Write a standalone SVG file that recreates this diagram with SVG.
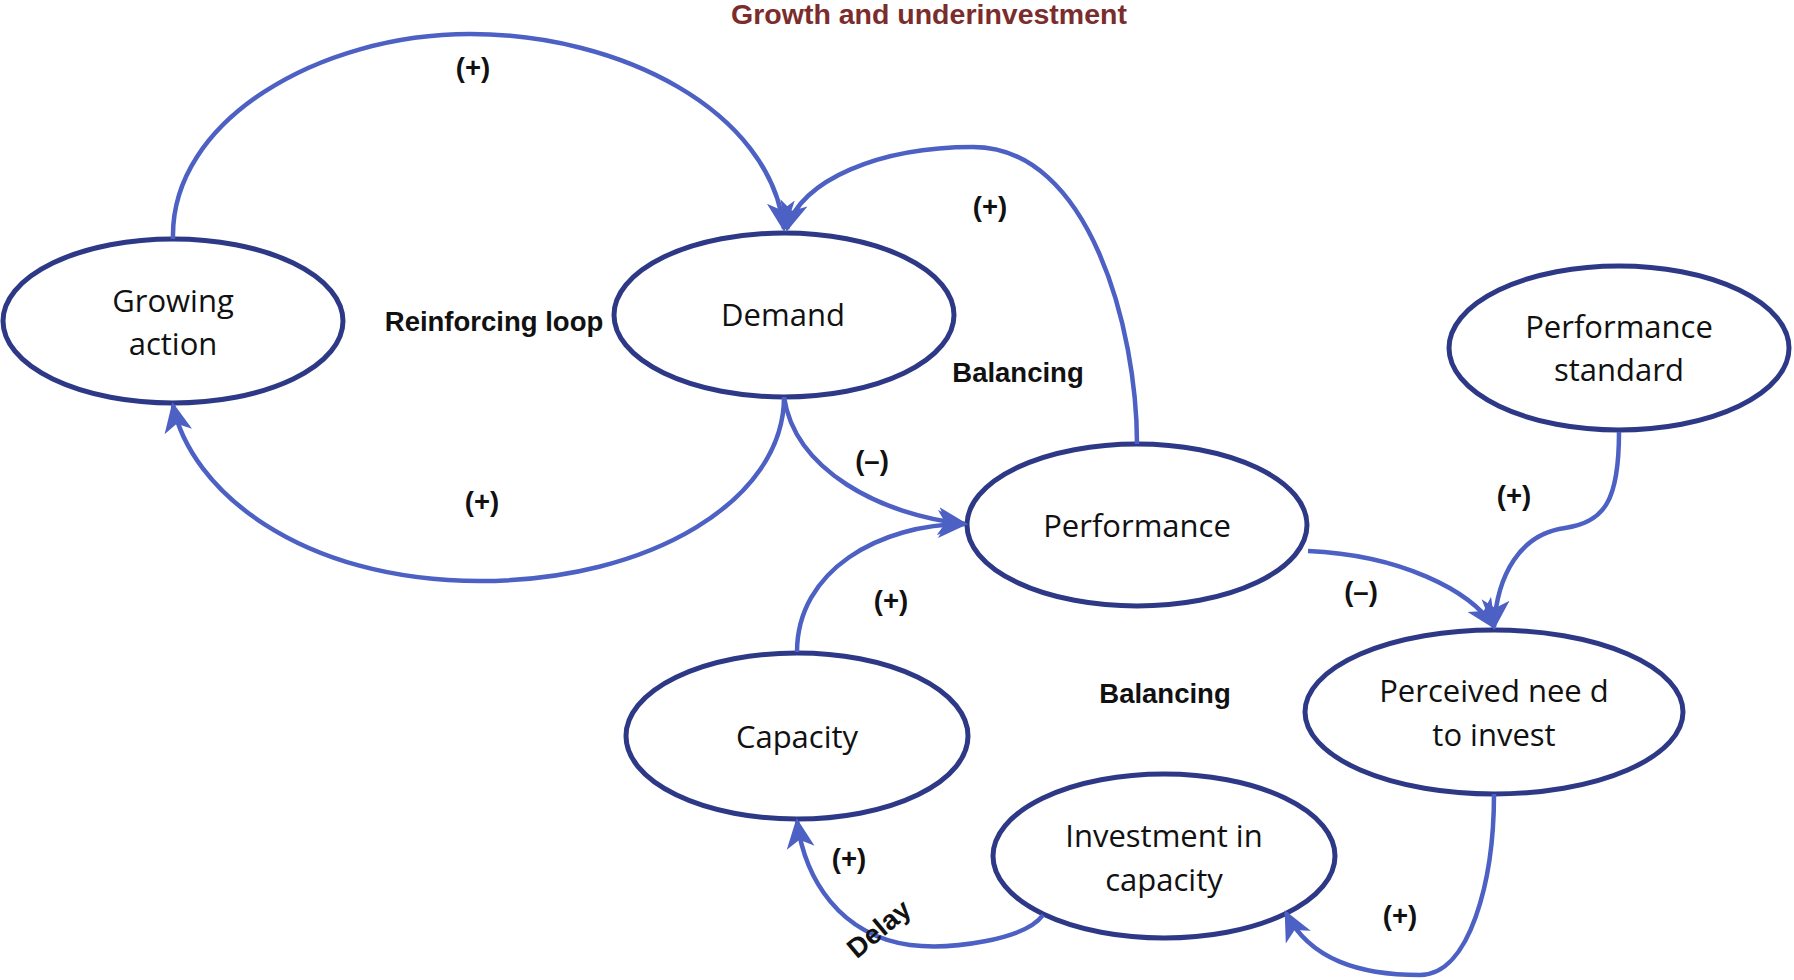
<svg xmlns="http://www.w3.org/2000/svg" width="1794" height="980" viewBox="0 0 1794 980">
<style>
.node{fill:#ffffff;stroke:#2d3986;stroke-width:5}
.lbl{font-family:"Open Sans","Liberation Sans",sans-serif;font-size:31px;fill:#111;text-anchor:middle}
.b{font-family:"Liberation Sans",Arial,sans-serif;font-weight:bold;font-size:27.5px;fill:#111;text-anchor:middle}
.c{fill:none;stroke:#4d60c4;stroke-width:4.5}
</style>
<defs>
<marker id="ah" markerUnits="userSpaceOnUse" markerWidth="30" markerHeight="30" viewBox="0 0 30 30" refX="27" refY="15" orient="auto">
<path d="M0,1 L30,15 L0,29 L8,15 z" fill="#4d60c4"/>
</marker>
</defs>
<rect width="1794" height="980" fill="#ffffff"/>
<text x="929" y="24" font-family="Liberation Sans, Arial, sans-serif" font-weight="bold" font-size="28.5" fill="#7b2c2c" text-anchor="middle">Growth and underinvestment</text>

<g id="n-growing"><ellipse class="node" cx="173" cy="321" rx="170" ry="82"/><text class="lbl" x="173" y="312">Growing</text><text class="lbl" x="173" y="355">action</text></g>
<g id="n-demand"><ellipse class="node" cx="784" cy="315" rx="170" ry="82"/><text class="lbl" x="783" y="326">Demand</text></g>
<g id="n-perfstd"><ellipse class="node" cx="1619" cy="348" rx="170" ry="82"/><text class="lbl" x="1619" y="338">Performance</text><text class="lbl" x="1619" y="381">standard</text></g>
<g id="n-perf"><ellipse class="node" cx="1137" cy="525" rx="170" ry="81"/><text class="lbl" x="1137" y="537">Performance</text></g>
<g id="n-need"><ellipse class="node" cx="1494" cy="712" rx="189" ry="82"/><text class="lbl" x="1494" y="702">Perceived nee d</text><text class="lbl" x="1494" y="746">to invest</text></g>
<g id="n-capacity"><ellipse class="node" cx="797" cy="736" rx="171" ry="83"/><text class="lbl" x="797" y="748">Capacity</text></g>
<g id="n-invest"><ellipse class="node" cx="1164" cy="856" rx="171" ry="82"/><text class="lbl" x="1164" y="847">Investment in</text><text class="lbl" x="1164" y="891">capacity</text></g>

<g id="connectors">
<path class="c" marker-end="url(#ah)" d="M173,239 C170,120 320,34 470,34 C620,34 770,110 784,229"/>
<path class="c" marker-end="url(#ah)" d="M1137,444 C1137,330 1090,147 973,147 C880,147 800,180 787,229"/>
<path class="c" marker-end="url(#ah)" d="M784,397 C784,500 650,581 480,581 C300,581 190,490 173,405"/>
<path class="c" marker-end="url(#ah)" d="M784,397 C795,470 880,515 965,524"/>
<path class="c" marker-end="url(#ah)" d="M797,652 C797,570 880,524 965,524"/>
<path class="c" marker-end="url(#ah)" d="M1308,551 C1400,555 1470,590 1494,627"/>
<path class="c" marker-end="url(#ah)" d="M1619,432 C1619,500 1605,522 1565,528 C1520,534 1497,575 1494,627"/>
<path class="c" marker-end="url(#ah)" d="M1494,794 C1494,880 1470,975 1420,975 C1360,975 1310,960 1286,913"/>
<path class="c" marker-end="url(#ah)" d="M1043,915 C1025,940 950,950 910,945 C840,935 805,880 797,821"/>
</g>

<g id="labels">
<text class="b" x="494" y="331">Reinforcing loop</text>
<text class="b" x="1018" y="382">Balancing</text>
<text class="b" x="1165" y="703">Balancing</text>
<text class="b" x="473" y="77">(+)</text>
<text class="b" x="990" y="216">(+)</text>
<text class="b" x="482" y="511">(+)</text>
<text class="b" x="872" y="470">(–)</text>
<text class="b" x="1514" y="505">(+)</text>
<text class="b" x="1361" y="601">(–)</text>
<text class="b" x="891" y="610">(+)</text>
<text class="b" x="849" y="868">(+)</text>
<text class="b" x="1400" y="925">(+)</text>
<text class="b" x="879" y="938" transform="rotate(-40 879 929)">Delay</text>
</g>
</svg>
